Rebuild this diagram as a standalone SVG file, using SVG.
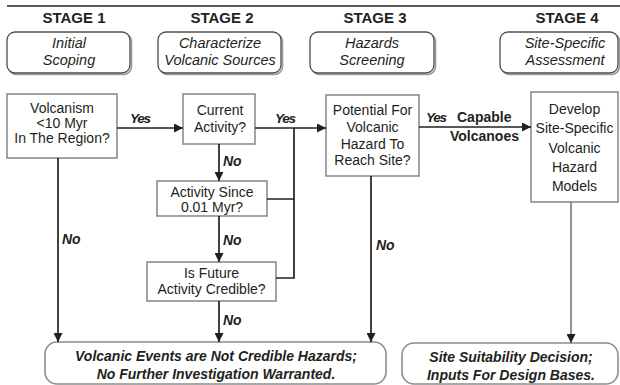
<svg xmlns="http://www.w3.org/2000/svg" width="620" height="385" viewBox="0 0 620 385">
<style>
text{font-family:"Liberation Sans",Arial,sans-serif;fill:#231f20;text-anchor:middle}
.stage{font-size:15px;font-weight:bold}
.hdr{font-size:14.5px;font-style:italic}
.body{font-size:14px}
.concl{font-size:14px;font-weight:bold;font-style:italic}
.no{font-size:14px;font-weight:bold;font-style:italic;text-anchor:start}
.yes{font-size:13.5px;font-weight:bold;font-style:italic;text-anchor:start;letter-spacing:-1.2px}
.cap{font-size:14px;font-weight:bold;text-anchor:start}
.hbox{fill:#fff;stroke:#4d4d4f;stroke-width:1.3}
.shadow{fill:none;stroke:#9a9a9a;stroke-width:1.6}
.box{fill:#fff;stroke:#8c8c8e;stroke-width:1.6}
.cbox{fill:#fff;stroke:#8c8c8e;stroke-width:1.6}
.conn{fill:none;stroke:#231f20;stroke-width:1.7}
.connG{fill:none;stroke:#808082;stroke-width:1.7}
</style>
<defs>
<marker id="ah" markerUnits="userSpaceOnUse" markerWidth="9" markerHeight="9" refX="9" refY="4.5" orient="auto">
<path d="M0,0 L9,4.5 L0,9 z" fill="#231f20"/>
</marker>
</defs>
<line x1="7" y1="6" x2="620" y2="6" stroke="#231f20" stroke-width="1.5"/>
<g id="stage1">
<text class="stage" x="74" y="23">STAGE 1</text>
<rect x="8.5" y="33.5" width="123" height="41" rx="8" class="shadow"/>
<rect x="7" y="32" width="123" height="41" rx="8" class="hbox"/>
<text class="hdr" x="69" y="48">Initial</text>
<text class="hdr" x="69" y="65">Scoping</text>
</g>
<g id="stage2">
<text class="stage" x="222" y="23">STAGE 2</text>
<rect x="159.5" y="33.5" width="123" height="41" rx="8" class="shadow"/>
<rect x="158" y="32" width="123" height="41" rx="8" class="hbox"/>
<text class="hdr" x="220" y="48">Characterize</text>
<text class="hdr" x="220" y="65">Volcanic Sources</text>
</g>
<g id="stage3">
<text class="stage" x="375" y="23">STAGE 3</text>
<rect x="311.5" y="33.5" width="124" height="41" rx="8" class="shadow"/>
<rect x="310" y="32" width="124" height="41" rx="8" class="hbox"/>
<text class="hdr" x="372" y="48">Hazards</text>
<text class="hdr" x="372" y="65">Screening</text>
</g>
<g id="stage4">
<text class="stage" x="567" y="23">STAGE 4</text>
<rect x="501.5" y="33.5" width="118" height="41" rx="8" class="shadow"/>
<rect x="500" y="32" width="118" height="41" rx="8" class="hbox"/>
<text class="hdr" x="565" y="48">Site-Specific</text>
<text class="hdr" x="565" y="65">Assessment</text>
</g>
<g id="volcanism">
<rect x="7" y="94" width="110" height="64" class="box"/>
<text class="body" x="62" y="113">Volcanism</text>
<text class="body" x="62" y="128">&lt;10 Myr</text>
<text class="body" x="62" y="143">In The Region?</text>
</g>
<g id="current">
<rect x="183" y="94" width="72" height="50" class="box"/>
<text class="body" x="220" y="115">Current</text>
<text class="body" x="220" y="132">Activity?</text>
</g>
<g id="since">
<rect x="157" y="181" width="110" height="35" class="box"/>
<text class="body" x="212" y="197">Activity Since</text>
<text class="body" x="212" y="212">0.01 Myr?</text>
</g>
<g id="future">
<rect x="147" y="262" width="129" height="39" class="box"/>
<text class="body" x="211.5" y="278">Is Future</text>
<text class="body" x="211.5" y="294">Activity Credible?</text>
</g>
<g id="potential">
<rect x="326" y="95" width="93" height="81" class="box"/>
<text class="body" x="372.5" y="115">Potential For</text>
<text class="body" x="372.5" y="132">Volcanic</text>
<text class="body" x="372.5" y="149">Hazard To</text>
<text class="body" x="372.5" y="165">Reach Site?</text>
</g>
<g id="develop">
<rect x="531" y="92" width="87" height="110" class="box"/>
<text class="body" x="574.5" y="114">Develop</text>
<text class="body" x="574.5" y="133">Site-Specific</text>
<text class="body" x="574.5" y="153">Volcanic</text>
<text class="body" x="574.5" y="172">Hazard</text>
<text class="body" x="574.5" y="191">Models</text>
</g>
<g id="notcredible">
<rect x="45" y="342" width="341" height="42" rx="12" class="cbox"/>
<text class="concl" x="216" y="361">Volcanic Events are Not Credible Hazards;</text>
<text class="concl" x="216" y="379">No Further Investigation Warranted.</text>
</g>
<g id="decision">
<rect x="402" y="343" width="216" height="41" rx="12" class="cbox"/>
<text class="concl" x="511" y="362">Site Suitability Decision;</text>
<text class="concl" x="511" y="380">Inputs For Design Bases.</text>
</g>
<g id="connectors">
<path class="conn" d="M117,128 H183" marker-end="url(#ah)"/>
<path class="conn" d="M255,128 H326" marker-end="url(#ah)"/>
<path class="conn" d="M294,128 V278 H276 M267,199 H294"/>
<path class="conn" d="M219,144 V181" marker-end="url(#ah)"/>
<path class="conn" d="M219,216 V262" marker-end="url(#ah)"/>
<path class="conn" d="M219,301 V342" marker-end="url(#ah)"/>
<path class="conn" d="M58,158 V342" marker-end="url(#ah)"/>
<path class="conn" d="M371,176 V342" marker-end="url(#ah)"/>
<path class="conn" d="M419,127 H531" marker-end="url(#ah)"/>
<path class="connG" d="M571,202 V343" marker-end="url(#ah)"/>
<text class="yes" x="130" y="123">Yes</text>
<text class="yes" x="275" y="123">Yes</text>
<text class="yes" x="426" y="122">Yes</text>
<text class="cap" x="457" y="122">Capable</text>
<text class="cap" x="450" y="141">Volcanoes</text>
<text class="no" x="223" y="166">No</text>
<text class="no" x="223" y="245">No</text>
<text class="no" x="223" y="325">No</text>
<text class="no" x="62" y="244">No</text>
<text class="no" x="376" y="250">No</text>
</g>
</svg>
